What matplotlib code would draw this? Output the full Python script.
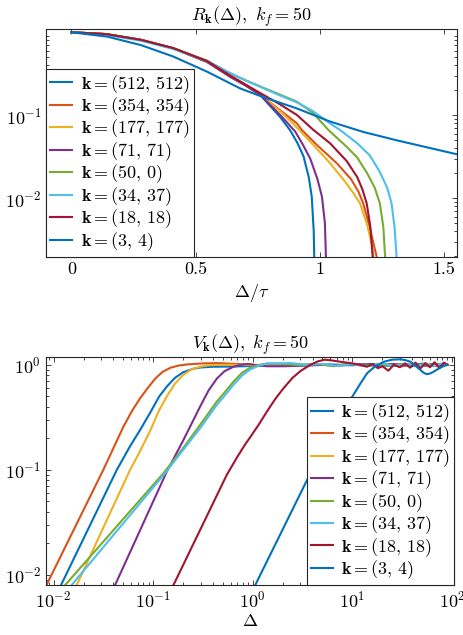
# %%

import numpy as np
import matplotlib.pyplot as plt

plt.rcParams['font.family'] = 'cmr10'
plt.rcParams['mathtext.fontset'] = 'cm'
plt.rcParams['axes.formatter.use_mathtext'] = True
plt.rcParams['font.size'] = 13

# %% Data

labels = [r'$\mathbf{k} = (512,\,512)$', r'$\mathbf{k} = (354,\,354)$',
          r'$\mathbf{k} = (177,\,177)$', r'$\mathbf{k} = (71,\,71)$',
          r'$\mathbf{k} = (50,\,0)$', r'$\mathbf{k} = (34,\,37)$',
          r'$\mathbf{k} = (18,\,18)$', r'$\mathbf{k} = (3,\,4)$']
colors = ['#0072BD', '#D95319', '#EDB120', '#7E2F8E',
          '#77AC30', '#4DBEEE', '#A2142F', '#0072BD']

# R_k(Delta) vs Delta/tau (top panel)
r_x_512 = [0, 0.14, 0.28, 0.41, 0.546, 0.64, 0.70, 0.76, 0.84, 0.88, 0.91, 0.934, 0.955, 0.967, 0.975, 0.977, 0.978]
r_y_512 = [1.0, 0.95, 0.81, 0.64, 0.44, 0.29, 0.23, 0.175, 0.095, 0.066, 0.046, 0.032, 0.018, 0.0105, 0.004, 0.002, 1e-4]
r_x_354 = [0, 0.14, 0.28, 0.41, 0.546, 0.64, 0.70, 0.76, 0.84, 0.907, 0.927, 0.988, 1.068, 1.125, 1.155, 1.174, 1.20, 1.22, 1.228, 1.229]
r_y_354 = [1.0, 0.95, 0.81, 0.64, 0.44, 0.29, 0.23, 0.176, 0.115, 0.080, 0.0665, 0.0438, 0.0264, 0.017, 0.012, 0.0087, 0.0045, 0.0025, 0.002, 1e-4]
r_x_177 = [0, 0.14, 0.28, 0.41, 0.546, 0.64, 0.70, 0.76, 0.84, 0.90, 0.974, 1.041, 1.10, 1.135, 1.161, 1.19, 1.208, 1.215, 1.216]
r_y_177 = [1.0, 0.95, 0.81, 0.64, 0.44, 0.29, 0.23, 0.176, 0.112, 0.075, 0.0438, 0.0264, 0.016, 0.0115, 0.0087, 0.0048, 0.0028, 0.002, 1e-4]
r_x_71 = [0, 0.14, 0.28, 0.41, 0.546, 0.64, 0.70, 0.76, 0.84, 0.90, 0.93, 0.961, 0.99, 1.008, 1.02, 1.024, 1.025]
r_y_71 = [1.0, 0.95, 0.81, 0.64, 0.44, 0.29, 0.23, 0.176, 0.101, 0.064, 0.045, 0.030, 0.017, 0.0105, 0.005, 0.002, 1e-4]
r_x_50 = [0, 0.14, 0.28, 0.41, 0.546, 0.64, 0.70, 0.76, 0.83, 0.907, 0.97, 1.034, 1.10, 1.15, 1.19, 1.22, 1.241, 1.255, 1.262, 1.263]
r_y_50 = [1.0, 0.95, 0.81, 0.645, 0.455, 0.32, 0.265, 0.222, 0.182, 0.146, 0.108, 0.0665, 0.0438, 0.031, 0.020, 0.0135, 0.0087, 0.0045, 0.002, 1e-4]
r_x_34 = [0, 0.14, 0.28, 0.41, 0.546, 0.64, 0.70, 0.76, 0.83, 0.907, 0.97, 1.04, 1.081, 1.15, 1.20, 1.24, 1.27, 1.288, 1.30, 1.306, 1.308, 1.309]
r_y_34 = [1.0, 0.93, 0.79, 0.63, 0.45, 0.32, 0.263, 0.220, 0.178, 0.143, 0.113, 0.080, 0.0665, 0.046, 0.033, 0.021, 0.0135, 0.0087, 0.0045, 0.0025, 0.002, 1e-4]
r_x_18 = [0, 0.14, 0.28, 0.41, 0.546, 0.64, 0.76, 0.84, 0.907, 0.974, 1.041, 1.108, 1.15, 1.17, 1.188, 1.203, 1.212, 1.213]
r_y_18 = [1.0, 0.95, 0.81, 0.645, 0.45, 0.30, 0.185, 0.135, 0.101, 0.0665, 0.0459, 0.028, 0.018, 0.013, 0.0087, 0.0045, 0.002, 1e-4]
r_x_3 = [0, 0.145, 0.28, 0.41, 0.546, 0.68, 0.773, 0.907, 1.041, 1.174, 1.308, 1.549]
r_y_3 = [1.0, 0.885, 0.70, 0.51, 0.335, 0.21, 0.165, 0.121, 0.084, 0.063, 0.050, 0.034]

# V_k(Delta) vs Delta (bottom panel)
v_x_512 = [0.0119, 0.0432, 0.058, 0.074, 0.0933, 0.115, 0.137, 0.165, 0.2, 0.25, 0.3, 0.4, 0.641, 1.2, 2, 3.5, 6, 10, 15, 22, 30, 40, 50, 60, 72, 90]
v_y_512 = [0.008, 0.1, 0.165, 0.24, 0.35, 0.50, 0.62, 0.75, 0.85, 0.915, 0.945, 0.96, 0.965, 0.98, 1.0, 0.99, 1.01, 0.99, 1.02, 0.98, 1.01, 0.97, 1.03, 0.98, 1.02, 1.0]
v_x_354 = [0.0085, 0.0316, 0.0504, 0.062, 0.074, 0.088, 0.105, 0.125, 0.15, 0.18, 0.22, 0.3, 0.44, 0.7, 1.0, 1.6, 2.5, 4, 6, 9, 13, 18, 25, 32, 40, 50, 60, 70, 80, 90]
v_y_354 = [0.008, 0.1, 0.259, 0.37, 0.48, 0.60, 0.74, 0.86, 0.94, 0.985, 1.01, 1.03, 1.04, 1.02, 1.0, 0.99, 1.0, 1.01, 0.99, 1.0, 1.01, 0.98, 1.02, 0.97, 1.03, 0.98, 1.02, 0.97, 1.03, 1.0]
v_x_177 = [0.0171, 0.0587, 0.075, 0.0933, 0.115, 0.137, 0.165, 0.2, 0.24, 0.296, 0.36, 0.436, 0.8, 1.5, 2.5, 4, 6.5, 10, 15, 22, 30, 40, 50, 62, 75, 90]
v_y_177 = [0.008, 0.1, 0.155, 0.235, 0.37, 0.50, 0.66, 0.80, 0.90, 0.96, 0.99, 1.0, 1.0, 0.99, 1.0, 1.01, 0.99, 1.01, 0.98, 1.02, 0.98, 1.03, 0.97, 1.02, 0.98, 1.0]
v_x_71 = [0.0415, 0.137, 0.2, 0.25, 0.296, 0.36, 0.436, 0.52, 0.641, 0.75, 0.9, 1.1, 1.39, 2, 3, 5, 8, 12, 18, 25, 35, 45, 55, 65, 78, 90]
v_y_71 = [0.008, 0.096, 0.19, 0.29, 0.40, 0.57, 0.74, 0.87, 0.96, 1.0, 1.02, 0.99, 0.97, 0.97, 0.98, 1.0, 0.99, 1.01, 0.98, 1.02, 0.99, 1.01, 0.98, 1.02, 0.99, 1.0]
v_x_50 = [0.0131, 0.127, 0.2, 0.296, 0.436, 0.55, 0.641, 0.78, 0.944, 1.15, 1.39, 2, 3, 4.5, 6.5, 9, 13, 18, 25, 33, 42, 52, 63, 75, 90]
v_y_50 = [0.008, 0.093, 0.161, 0.268, 0.447, 0.58, 0.693, 0.84, 0.94, 1.0, 1.03, 1.02, 0.99, 1.02, 0.97, 1.03, 0.98, 1.01, 0.97, 1.03, 0.98, 1.02, 0.97, 1.02, 1.0]
v_x_34 = [0.0152, 0.132, 0.2, 0.296, 0.436, 0.55, 0.641, 0.78, 0.944, 1.15, 1.39, 2.38, 3.5, 5, 7, 10, 14, 20, 27, 35, 45, 55, 66, 78, 90]
v_y_34 = [0.008, 0.093, 0.155, 0.249, 0.416, 0.54, 0.646, 0.79, 0.905, 0.98, 1.03, 1.04, 1.0, 1.02, 0.98, 1.01, 0.97, 1.03, 0.98, 1.02, 0.97, 1.03, 0.98, 1.02, 1.0]
v_x_18 = [0.16, 0.55, 0.7, 0.85, 0.944, 1.15, 1.39, 1.7, 2.04, 2.5, 3.0, 3.78, 4.5, 5.3, 6.3, 7.6, 9.55, 12, 14, 16, 18, 20, 23, 26, 30, 34, 38, 43, 48, 54, 60, 67, 75, 83, 90]
v_y_18 = [0.008, 0.09, 0.133, 0.178, 0.205, 0.27, 0.36, 0.48, 0.60, 0.75, 0.87, 1.0, 1.08, 1.12, 1.10, 1.07, 1.04, 1.0, 0.96, 1.02, 0.93, 0.97, 0.88, 1.0, 0.95, 1.03, 0.94, 1.05, 0.92, 1.04, 0.95, 1.06, 0.93, 1.05, 1.0]
v_x_3 = [1.06, 3.51, 5.75, 7.5, 9.55, 12, 14.1, 17, 20.7, 25, 30.3, 34, 38.3, 43, 48.2, 52, 56.2, 61, 65.6, 72, 78, 84, 89.5]
v_y_3 = [0.008, 0.080, 0.21, 0.33, 0.465, 0.66, 0.834, 0.97, 1.07, 1.12, 1.13, 1.11, 1.07, 0.98, 0.895, 0.84, 0.815, 0.83, 0.863, 0.91, 0.95, 0.98, 1.0]

r_curves = [(r_x_512, r_y_512), (r_x_354, r_y_354), (r_x_177, r_y_177), (r_x_71, r_y_71),
            (r_x_50, r_y_50), (r_x_34, r_y_34), (r_x_18, r_y_18), (r_x_3, r_y_3)]
v_curves = [(v_x_512, v_y_512), (v_x_354, v_y_354), (v_x_177, v_y_177), (v_x_71, v_y_71),
            (v_x_50, v_y_50), (v_x_34, v_y_34), (v_x_18, v_y_18), (v_x_3, v_y_3)]


def style_axes(ax):
    ax.tick_params(which='both', direction='in', top=True, right=True,
                   color='0.15', width=0.6)
    ax.tick_params(which='major', length=3.5)
    ax.tick_params(which='minor', length=2)
    for s in ax.spines.values():
        s.set_color('0.15')
        s.set_linewidth(0.8)


def add_legend(ax, where):
    leg = ax.legend(loc=where, borderaxespad=0, handlelength=1.2,
                    handletextpad=0.47, labelspacing=-0.015, borderpad=0.22,
                    fancybox=False, edgecolor='0.15', framealpha=1)
    leg.get_frame().set_linewidth(0.8)
    return leg


# %% Plot

fig = plt.figure(figsize=(4.64, 6.35), dpi=100)

ax1 = fig.add_axes([0.1002, 0.5958, 0.884, 0.3586])
for (x, y), c, lab in zip(r_curves, colors, labels):
    ax1.plot(x, y, color=c, lw=1.5, label=lab)
ax1.set_yscale('log')
ax1.set_xlim([-0.1, 1.55])
ax1.set_ylim([0.00198, 1.096])
ax1.set_yticks([1e-2, 1e-1])
ax1.set_xticks([0, 0.5, 1, 1.5])
ax1.set_xticklabels(['0', '0.5', '1', '1.5'])
ax1.set_xlabel(r'$\Delta/\tau$', labelpad=4)
ax1.set_title(r'$R_{\mathbf{k}}(\Delta),\ k_f = 50$', fontsize=13, pad=6)
style_axes(ax1)
add_legend(ax1, 'lower left')

ax2 = fig.add_axes([0.0991, 0.0787, 0.8804, 0.3586])
for (x, y), c, lab in zip(v_curves, colors, labels):
    ax2.plot(x, y, color=c, lw=1.5, label=lab)
ax2.set_xscale('log')
ax2.set_yscale('log')
ax2.set_xlim([0.0084, 106])
ax2.set_ylim([0.008, 1.18])
ax2.set_xlabel(r'$\Delta$', labelpad=2)
ax2.set_title(r'$V_{\mathbf{k}}(\Delta),\ k_f = 50$', fontsize=13, pad=6)
style_axes(ax2)
add_legend(ax2, 'lower right')

fig.savefig('out.png', dpi=100)
